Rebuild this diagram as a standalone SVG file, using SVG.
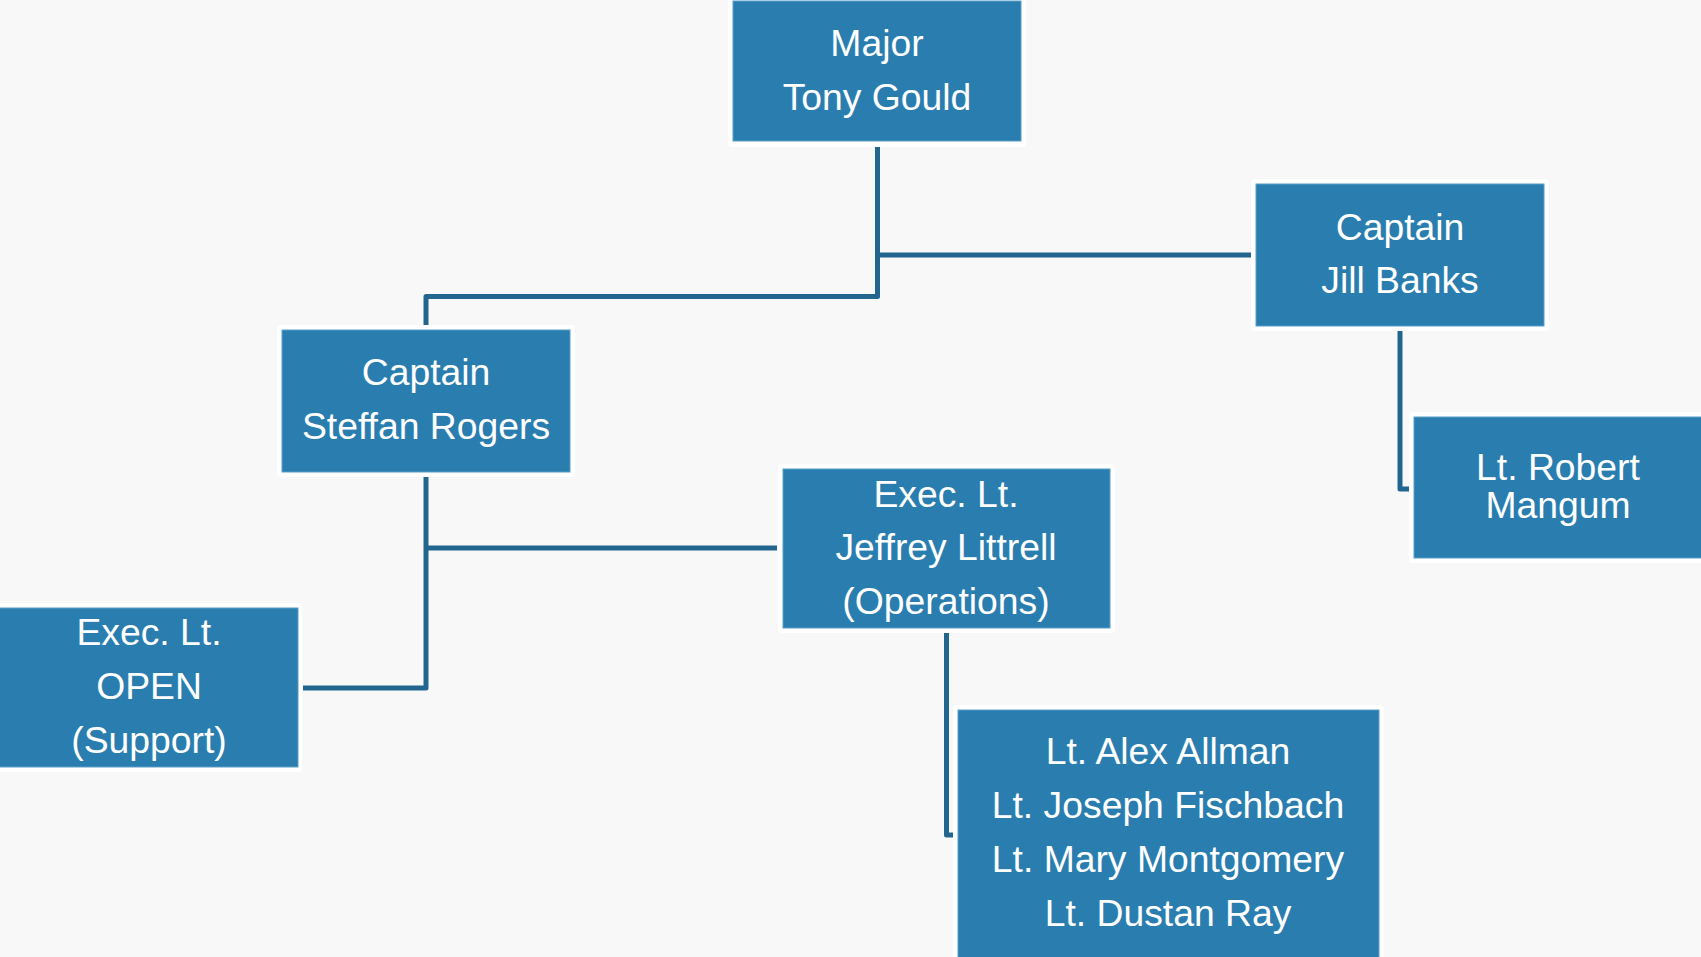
<svg xmlns="http://www.w3.org/2000/svg" width="1701" height="957" viewBox="0 0 1701 957">
<style>
.bg{fill:#f8f8f8}
.halo{fill:#ffffff}
.box{fill:#297eaf;stroke:#5b9fc9;stroke-width:1}
.lbl{font-family:"Liberation Sans",Arial,sans-serif;font-size:37.3px;fill:#ffffff;text-anchor:middle}
.conn{fill:none;stroke:#22668f;stroke-width:5;stroke-linejoin:round;stroke-linecap:butt}
</style>
<rect class="bg" x="0" y="0" width="1701" height="957"/>
<g id="connectors">
<path class="conn" d="M877.5 147 V296.5 H426 V326"/>
<path class="conn" d="M877.5 255 H1251"/>
<path class="conn" d="M426 476 V688 H303"/>
<path class="conn" d="M426 548 H777"/>
<path class="conn" d="M946.5 633 V835 H953"/>
<path class="conn" d="M1400 331 V489 H1409"/>
</g>
<g id="major">
<rect class="halo" x="728" y="-4" width="298" height="151" rx="4"/>
<rect class="box" x="733" y="1" width="288" height="140"/>
<text class="lbl" x="877" y="56">Major</text>
<text class="lbl" x="877" y="110">Tony Gould</text>
</g>
<g id="jill">
<rect class="halo" x="1251" y="179" width="298" height="152" rx="4"/>
<rect class="box" x="1256" y="184" width="288" height="142"/>
<text class="lbl" x="1400" y="240">Captain</text>
<text class="lbl" x="1400" y="293">Jill Banks</text>
</g>
<g id="steffan">
<rect class="halo" x="277" y="325" width="298" height="152" rx="4"/>
<rect class="box" x="282" y="330" width="288" height="142"/>
<text class="lbl" x="426" y="385">Captain</text>
<text class="lbl" x="426" y="439">Steffan Rogers</text>
</g>
<g id="robert">
<rect class="halo" x="1409" y="412" width="298" height="151" rx="4"/>
<rect class="box" x="1414" y="417" width="288" height="141"/>
<text class="lbl" x="1558" y="480">Lt. Robert</text>
<text class="lbl" x="1558" y="518">Mangum</text>
</g>
<g id="jeffrey">
<rect class="halo" x="778" y="464" width="337" height="169" rx="4"/>
<rect class="box" x="783" y="469" width="327" height="159"/>
<text class="lbl" x="946" y="507">Exec. Lt.</text>
<text class="lbl" x="946" y="560">Jeffrey Littrell</text>
<text class="lbl" x="946" y="614">(Operations)</text>
</g>
<g id="exec-open">
<rect class="halo" x="-5" y="603" width="307" height="169" rx="4"/>
<rect class="box" x="-1" y="608" width="299" height="159"/>
<text class="lbl" x="149" y="645">Exec. Lt.</text>
<text class="lbl" x="149" y="699">OPEN</text>
<text class="lbl" x="149" y="753">(Support)</text>
</g>
<g id="lieutenants">
<rect class="halo" x="953" y="705" width="431" height="270" rx="4"/>
<rect class="box" x="958" y="710" width="421" height="260"/>
<text class="lbl" x="1168" y="764">Lt. Alex Allman</text>
<text class="lbl" x="1168" y="818">Lt. Joseph Fischbach</text>
<text class="lbl" x="1168" y="872">Lt. Mary Montgomery</text>
<text class="lbl" x="1168" y="926">Lt. Dustan Ray</text>
</g>
</svg>
